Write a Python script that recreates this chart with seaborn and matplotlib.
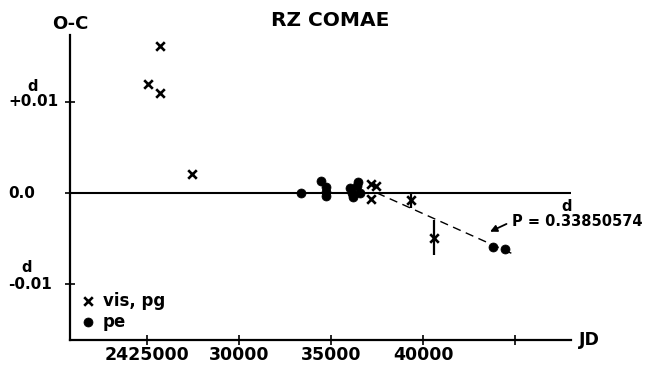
import numpy as np
import pandas as pd
import seaborn as sns
import matplotlib.pyplot as plt
import matplotlib.transforms as mtransforms

# O-C data
vis_jd = [2425070, 2425700, 2425700, 2427430, 2437200, 2437450, 2437200, 2439350, 2440620]
vis_oc = [0.0120, 0.0161, 0.0110, 0.0021, 0.0010, 0.0008, -0.0007, -0.0008, -0.0049]
vis_err = [0, 0, 0, 0, 0, 0, 0, 0.0008, 0.0019]

pe_jd = [2433370, 2434460, 2434710, 2434710, 2434710, 2436030, 2436120,
         2436180, 2436390, 2436480, 2436580, 2443820, 2444460]
pe_oc = [0.0, 0.0013, 0.0007, 0.0001, -0.0003, 0.0005, 0.0,
         -0.0004, 0.0008, 0.0012, 0.0, -0.0059, -0.0062]

fit_jd = [2437500, 2445000]
fit_oc = [0.0, -0.0068]

x_ticks = [2425000, 2430000, 2435000, 2440000, 2445000]
x_ticklabels = ['2425000', '30000', '35000', '40000', '']
y_ticks = [0.01, 0.0, -0.01]
y_ticklabels = ['+0.01', '0.0', '-0.01']

sns.set_style('ticks')
plt.rcParams['font.family'] = ['DejaVu Sans']
plt.rcParams['font.weight'] = 'bold'
for key in ['text.color', 'axes.labelcolor', 'xtick.color', 'ytick.color']:
    plt.rcParams[key] = 'black'

df_vis = pd.DataFrame({'jd': vis_jd, 'oc': vis_oc, 'err': vis_err})
df_pe = pd.DataFrame({'jd': pe_jd, 'oc': pe_oc})

fig = plt.figure(figsize=(6.52, 3.66), dpi=100)
ax = fig.add_axes([70 / 652, 1 - 340 / 366, 501 / 652, 305 / 366])

# zero line and fitted period line
ax.axhline(0, color='black', lw=1.5, zorder=1)
sns.lineplot(x=fit_jd, y=fit_oc, ax=ax, color='black', lw=1.0,
             linestyle=(0, (6, 4)), zorder=1)

# error bars for the two later visual points
err = df_vis[df_vis['err'] > 0]
ax.errorbar(err['jd'], err['oc'], yerr=err['err'], fmt='none',
            ecolor='black', elinewidth=1.6, capsize=0, zorder=2)

sns.scatterplot(data=df_vis, x='jd', y='oc', ax=ax, marker='x', s=38,
                color='black', linewidth=1.9, label='vis, pg', zorder=3)
sns.scatterplot(data=df_pe, x='jd', y='oc', ax=ax, marker='o', s=42,
                color='black', edgecolor='black', label='pe', zorder=3)

ax.set_xlim(2420820, 2448040)
ax.set_ylim(-0.01615, 0.01736)
ax.set_xlabel('')
ax.set_ylabel('')

ax.set_xticks(x_ticks)
ax.set_xticklabels(x_ticklabels, fontsize=12.5, fontweight='bold')
ax.set_yticks(y_ticks)
ax.set_yticklabels([])
ax.tick_params(direction='inout', length=7, width=1.2, color='black')
ax.tick_params(axis='x', pad=1)

sns.despine(ax=ax)
for side in ['left', 'bottom']:
    ax.spines[side].set_linewidth(1.6)
    ax.spines[side].set_color('black')

# y tick labels, left aligned near the figure edge, with the "d" superscript
ytrans = mtransforms.blended_transform_factory(fig.transFigure, ax.transData)
for val, lab in zip(y_ticks, y_ticklabels):
    ax.text(8 / 652, val, lab, transform=ytrans, ha='left', va='center',
            fontsize=11, fontweight='bold')
ax.text(33 / 652, 0.0117, 'd', transform=ytrans, ha='center', va='center',
        fontsize=10.5, fontweight='bold')
ax.text(27 / 652, -0.0082, 'd', transform=ytrans, ha='center', va='center',
        fontsize=10.5, fontweight='bold')

ax.text(0, 1.036, 'O-C', transform=ax.transAxes, ha='center', va='center',
        fontsize=13, fontweight='bold')
ax.text(0.519, 1.049, 'RZ COMAE', transform=ax.transAxes, ha='center',
        va='center', fontsize=14.5, fontweight='bold')
ax.text(1.036, 0, 'JD', transform=ax.transAxes, ha='center', va='center',
        fontsize=12.5, fontweight='bold')

# period annotation
ax.annotate('P = 0.33850574', xy=(2443640, -0.00425), xytext=(2444850, -0.0031),
            ha='left', va='center', fontsize=10.5, fontweight='bold',
            arrowprops=dict(arrowstyle='-|>', color='black', lw=1.3,
                            relpos=(0, 0.5), shrinkA=2, shrinkB=0,
                            mutation_scale=10))
ax.text(2447780, -0.00145, 'd', ha='center', va='center', fontsize=10.5,
        fontweight='bold')

leg = ax.legend(loc='lower left', bbox_to_anchor=(0.022, 0.03), frameon=False,
                fontsize=12, handlelength=0.8, handletextpad=0.5,
                labelspacing=0.2, borderpad=0, borderaxespad=0)
for t in leg.get_texts():
    t.set_fontweight('bold')

fig.savefig('out.png', dpi=100)
